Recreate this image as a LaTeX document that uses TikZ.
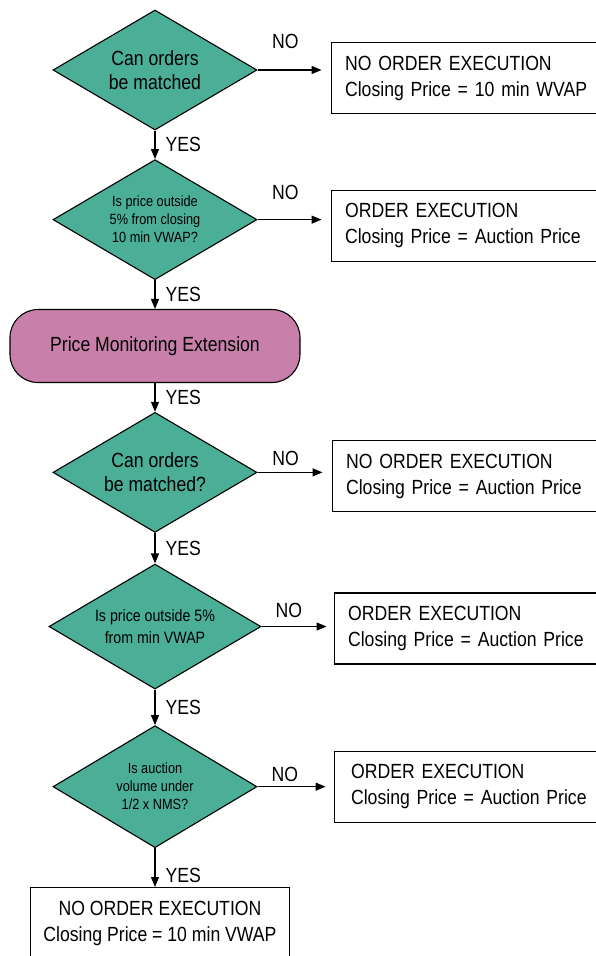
\documentclass[tikz,border=0pt]{standalone}
\usepackage{fontspec}
\setmainfont[FakeStretch=0.86]{Liberation Sans}
\usetikzlibrary{matrix, arrows.meta, shapes.geometric, calc}
\definecolor{qgreen}{HTML}{4AAF96}
\definecolor{extpink}{HTML}{C880AB}

\begin{document}
\begin{tikzpicture} [x=1pt, y=1pt, line width=1.1pt,
  decision/.style = {draw, diamond, aspect=1.7, fill=qgreen, inner sep=0pt, minimum width=204pt, minimum height=120pt, align=center, font=\fontsize{20.5}{24}\selectfont},
  smallq/.style = {font=\fontsize{14.8}{18}\selectfont},
  outbox/.style = {draw, anchor=west, text width=262pt, inner xsep=14pt, minimum height=71pt, align=left, font=\fontsize{20.5}{26}\selectfont},
  endbox/.style = {draw, minimum width=259pt, minimum height=71pt, align=center, font=\fontsize{20.5}{26}\selectfont},
  pmext/.style = {draw, fill=extpink, rounded corners=28pt, minimum width=290pt, minimum height=73pt, font=\fontsize{20.5}{24}\selectfont},
  lbl/.style = {inner sep=2pt, font=\fontsize{20.5}{24}\selectfont},
  flow/.style = {-{Triangle[length=10pt, width=8pt]}}]
\matrix (m) [row sep=29pt, column sep=30pt, inner sep=0pt]{
\node[decision](q1){Can orders\\be matched}; & \node[outbox, yshift=-8pt](r1){NO ORDER EXECUTION\\Closing Price = 10 min WVAP}; \\
\node[decision, smallq](q2){Is price outside\\5\% from closing\\10 min VWAP?}; & \node[outbox, yshift=-6pt](r2){ORDER EXECUTION\\Closing Price = Auction Price}; \\
\node[pmext](pm){Price Monitoring Extension}; \\
\node[decision](q3){Can orders\\be matched?}; & \node[outbox, xshift=1pt, yshift=-4pt](r3){NO ORDER EXECUTION\\Closing Price = Auction Price}; \\[2pt]
\node[decision, minimum width=212pt, minimum height=125pt, font=\fontsize{16.5}{22}\selectfont](q4){Is price outside 5\%\\from min VWAP}; & \node[outbox, xshift=3pt, yshift=-2pt](r4){ORDER EXECUTION\\Closing Price = Auction Price}; \\[7pt]
\node[decision, smallq, minimum height=122pt](q5){Is auction\\volume under\\1/2 x NMS?}; & \node[outbox, xshift=3pt, inner xsep=17pt](r5){ORDER EXECUTION\\Closing Price = Auction Price}; \\[10pt]
\node[endbox, xshift=5pt](fin){NO ORDER EXECUTION\\Closing Price = 10 min VWAP}; \\
};
\draw[flow] (q1) -- (q2) node[lbl, right=8pt, pos=.5]{YES};
\draw[flow] (q2) -- (pm) node[lbl, right=8pt, pos=.5]{YES};
\draw[flow] (pm) -- (q3) node[lbl, right=8pt, pos=.5]{YES};
\draw[flow] (q3) -- (q4) node[lbl, right=8pt, pos=.5]{YES};
\draw[flow] (q4) -- (q5) node[lbl, right=8pt, pos=.5]{YES};
\draw[flow] (q5.south) -- (q5.south |- fin.north) node[lbl, right=8pt, pos=.7]{YES};
\draw[flow, shorten >=9pt] (q1.east) -- (q1.east -| r1.west) node[lbl, above=19pt, pos=.38]{NO};
\draw[flow, shorten >=9pt] (q2.east) -- (q2.east -| r2.west) node[lbl, above=17pt, pos=.38]{NO};
\draw[flow, shorten >=9pt] (q3.east) -- (q3.east -| r3.west) node[lbl, above=4pt, pos=.38]{NO};
\draw[flow, shorten >=7pt] (q4.east) -- (q4.east -| r4.west) node[lbl, above=6pt, pos=.38]{NO};
\draw[flow, shorten >=8pt] (q5.east) -- (q5.east -| r5.west) node[lbl, above=2pt, pos=.36]{NO};
\pgfresetboundingbox
\useasboundingbox ($(q1.center)+(-155,70)$) rectangle ++(595,-956);
\end{tikzpicture}
\end{document}
